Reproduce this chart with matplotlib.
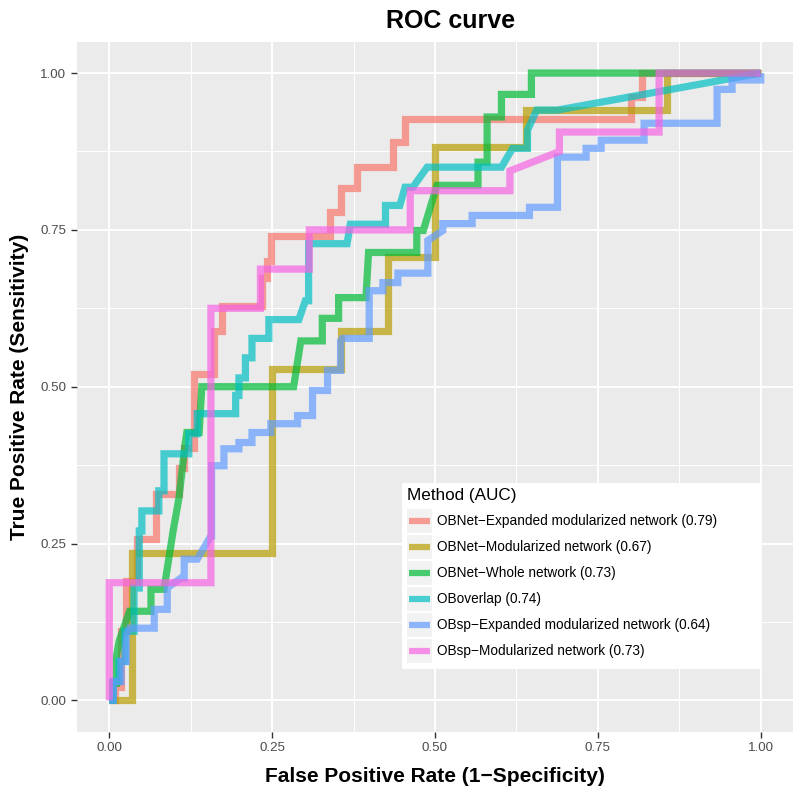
import matplotlib
matplotlib.use("Agg")
import matplotlib.pyplot as plt
from matplotlib.legend_handler import HandlerBase
from matplotlib.patches import Rectangle
from matplotlib.lines import Line2D

plt.rcParams['font.family'] = ['Liberation Sans', 'DejaVu Sans']

methods = [
    "OBNet\u2212Expanded modularized network (0.79)",
    "OBNet\u2212Modularized network (0.67)",
    "OBNet\u2212Whole network (0.73)",
    "OBoverlap (0.74)",
    "OBsp\u2212Expanded modularized network (0.64)",
    "OBsp\u2212Modularized network (0.73)",
]
colors = ["#F8766D", "#B79F00", "#00BA38", "#00BFC4", "#619CFF", "#F564E3"]

# OBNet-Expanded modularized network
fpr_red = [0, 0.009, 0.009, 0.018, 0.018, 0.026, 0.026, 0.043, 0.043, 0.072, 0.072, 0.107, 0.107,
           0.115, 0.115, 0.130, 0.130, 0.161, 0.161, 0.173, 0.173, 0.234, 0.234, 0.242, 0.242,
           0.248, 0.248, 0.339, 0.339, 0.355, 0.355, 0.381, 0.381, 0.436, 0.436, 0.454, 0.454,
           0.801, 0.801, 0.818, 0.818, 1.0]
tpr_red = [0, 0, 0.022, 0.022, 0.110, 0.110, 0.190, 0.190, 0.257, 0.257, 0.329, 0.329, 0.371,
           0.371, 0.403, 0.403, 0.521, 0.521, 0.589, 0.589, 0.629, 0.629, 0.673, 0.673, 0.701,
           0.701, 0.741, 0.741, 0.778, 0.778, 0.816, 0.816, 0.851, 0.851, 0.890, 0.890, 0.927,
           0.927, 0.962, 0.962, 1.0, 1.0]

# OBNet-Modularized network
fpr_gold = [0, 0.035, 0.035, 0.25, 0.25, 0.355, 0.355, 0.428, 0.428, 0.5, 0.5, 0.64, 0.64,
            0.856, 0.856, 1.0]
tpr_gold = [0, 0, 0.235, 0.235, 0.529, 0.529, 0.588, 0.588, 0.706, 0.706, 0.882, 0.882, 0.941,
            0.941, 1.0, 1.0]

# OBNet-Whole network
fpr_green = [0, 0.005, 0.005, 0.011, 0.011, 0.015, 0.031, 0.064, 0.064, 0.084, 0.098, 0.107,
             0.116, 0.119, 0.138, 0.142, 0.283, 0.294, 0.327, 0.327, 0.352, 0.352, 0.394, 0.398,
             0.472, 0.472, 0.482, 0.503, 0.566, 0.566, 0.580, 0.580, 0.602, 0.602, 0.648, 0.648, 1.0]
tpr_green = [0, 0, 0.027, 0.027, 0.070, 0.094, 0.142, 0.142, 0.177, 0.177, 0.270, 0.323,
             0.406, 0.427, 0.427, 0.5, 0.5, 0.573, 0.573, 0.609, 0.609, 0.642, 0.642, 0.714,
             0.714, 0.749, 0.749, 0.821, 0.821, 0.858, 0.858, 0.930, 0.930, 0.966, 0.966, 1.0, 1.0]

# OBoverlap
fpr_cyan = [0, 0.006, 0.006, 0.015, 0.015, 0.024, 0.024, 0.038, 0.038, 0.046, 0.046, 0.050,
            0.050, 0.076, 0.076, 0.084, 0.084, 0.122, 0.122, 0.135, 0.135, 0.194, 0.194, 0.199,
            0.199, 0.209, 0.209, 0.219, 0.219, 0.245, 0.245, 0.291, 0.301, 0.306, 0.306, 0.365,
            0.370, 0.424, 0.424, 0.446, 0.454, 0.466, 0.488, 0.602, 0.619, 0.642, 0.642, 0.656,
            0.688, 1.0]
tpr_cyan = [0, 0, 0.030, 0.030, 0.062, 0.062, 0.110, 0.110, 0.179, 0.179, 0.270, 0.270, 0.302,
            0.302, 0.334, 0.334, 0.393, 0.393, 0.425, 0.425, 0.457, 0.457, 0.486, 0.486, 0.514,
            0.514, 0.546, 0.546, 0.577, 0.577, 0.607, 0.607, 0.637, 0.637, 0.728, 0.728, 0.759,
            0.759, 0.789, 0.789, 0.818, 0.818, 0.850, 0.850, 0.880, 0.880, 0.909, 0.941, 0.941,
            1.0]

# OBsp-Expanded modularized network
fpr_blue = [0, 0.006, 0.006, 0.018, 0.018, 0.026, 0.026, 0.031, 0.069, 0.069, 0.089, 0.089,
            0.110, 0.115, 0.115, 0.135, 0.156, 0.157, 0.157, 0.176, 0.176, 0.199, 0.199, 0.219,
            0.219, 0.248, 0.248, 0.289, 0.289, 0.312, 0.312, 0.335, 0.335, 0.355, 0.355, 0.358,
            0.399, 0.399, 0.420, 0.420, 0.443, 0.443, 0.489, 0.489, 0.512, 0.512, 0.557, 0.557,
            0.645, 0.645, 0.688, 0.688, 0.732, 0.732, 0.755, 0.755, 0.821, 0.821, 0.933, 0.933,
            0.956, 0.956, 1.0, 1.0]
tpr_blue = [0, 0, 0.030, 0.030, 0.062, 0.062, 0.105, 0.115, 0.115, 0.145, 0.145, 0.179, 0.195,
            0.195, 0.225, 0.225, 0.262, 0.262, 0.374, 0.374, 0.401, 0.401, 0.411, 0.411, 0.427,
            0.427, 0.441, 0.441, 0.454, 0.454, 0.494, 0.494, 0.526, 0.526, 0.573, 0.577, 0.577,
            0.653, 0.653, 0.666, 0.666, 0.681, 0.681, 0.733, 0.749, 0.760, 0.760, 0.773, 0.773,
            0.786, 0.786, 0.866, 0.866, 0.880, 0.880, 0.893, 0.893, 0.920, 0.920, 0.974, 0.974,
            0.989, 0.989, 1.0]

# OBsp-Modularized network
fpr_pink = [0, 0, 0.156, 0.156, 0.232, 0.232, 0.307, 0.307, 0.462, 0.462, 0.615, 0.615, 0.691,
            0.691, 0.844, 0.844, 1.0]
tpr_pink = [0, 0.1875, 0.1875, 0.625, 0.625, 0.6875, 0.6875, 0.75, 0.75, 0.8125, 0.8125,
            0.844, 0.875, 0.906, 0.906, 1.0, 1.0]

curves = [(fpr_red, tpr_red), (fpr_gold, tpr_gold), (fpr_green, tpr_green),
          (fpr_cyan, tpr_cyan), (fpr_blue, tpr_blue), (fpr_pink, tpr_pink)]

fig = plt.figure(figsize=(8.0, 7.96), dpi=100)
ax = fig.add_axes([0.0959, 0.0808, 0.8957, 0.8668])
ax.set_facecolor("#EBEBEB")
for s in ax.spines.values():
    s.set_visible(False)

ax.set_xlim(-0.05, 1.05)
ax.set_ylim(-0.05, 1.05)
ticks = [0, 0.25, 0.5, 0.75, 1.0]
tick_labels = ["0.00", "0.25", "0.50", "0.75", "1.00"]
ax.set_xticks(ticks)
ax.set_xticklabels(tick_labels)
ax.set_yticks(ticks)
ax.set_yticklabels(tick_labels)
ax.set_xticks([0.125, 0.375, 0.625, 0.875], minor=True)
ax.set_yticks([0.125, 0.375, 0.625, 0.875], minor=True)
ax.grid(which="major", color="white", linewidth=1.4)
ax.grid(which="minor", color="white", linewidth=0.7)
ax.set_axisbelow(True)
ax.tick_params(which="major", length=4.5, width=1.0, color="#333333",
               labelcolor="#4D4D4D", labelsize=9.6, pad=3)
ax.tick_params(which="minor", length=0)

for (fx, ty), c in zip(curves, colors):
    ax.plot(fx, ty, color=c, lw=5.2, alpha=0.7, solid_joinstyle="miter",
            solid_capstyle="butt")

fig.text(386 / 800, 1 - 28.3 / 796, "ROC curve", fontsize=18, fontweight="bold",
         ha="left", va="baseline")
ax.set_xlabel("False Positive Rate (1\u2212Specificity)", fontsize=15, fontweight="bold",
              labelpad=9.5)
ax.set_ylabel("True Positive Rate (Sensitivity)", fontsize=15, fontweight="bold",
              labelpad=8)


class KeyHandler(HandlerBase):
    def create_artists(self, legend, orig_handle, xdescent, ydescent, width, height,
                       fontsize, trans):
        r = Rectangle((-xdescent, -ydescent), width, height, facecolor="#F2F2F2",
                      edgecolor="none", transform=trans)
        y = -ydescent + height / 2
        ln = Line2D([-xdescent + width * 0.08, -xdescent + width * 0.92], [y, y],
                    color=orig_handle.get_color(), lw=4.5, alpha=0.7,
                    solid_capstyle="butt", transform=trans)
        return [r, ln]


handles = [Line2D([], [], color=c) for c in colors]
leg = ax.legend(handles, methods, title="Method (AUC)", loc="upper left",
                bbox_to_anchor=(0.4535, 0.0935, 0.5014, 0.2674), mode="expand",
                fontsize=9.8, title_fontsize=12.3,
                frameon=True, fancybox=False, edgecolor="white", facecolor="white",
                framealpha=1.0, borderpad=0.4, handlelength=1.84, handleheight=2.34,
                handletextpad=0.37, labelspacing=0.15, borderaxespad=0,
                alignment="left", handler_map={Line2D: KeyHandler()})
leg.get_frame().set_linewidth(0)
leg._legend_box.sep = 0.15 * 9.8 + 2.6

fig.savefig("out.png", dpi=100)
